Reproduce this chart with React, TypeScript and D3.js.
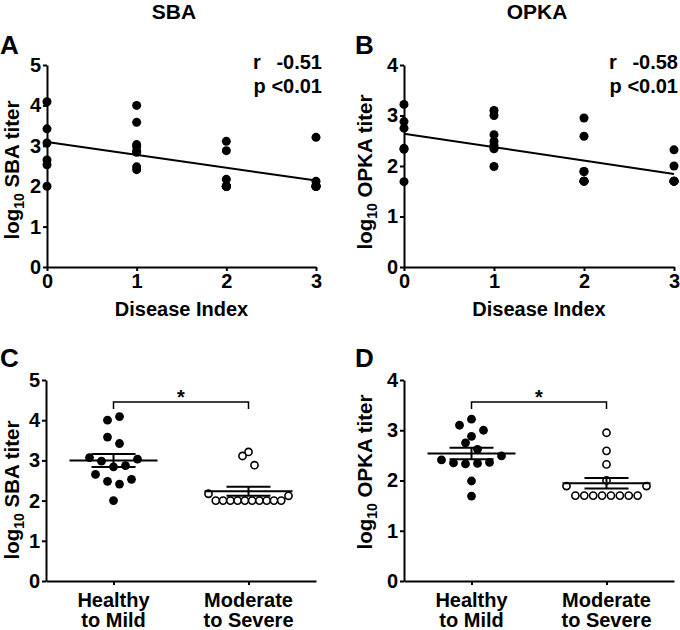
import React, { useRef, useEffect } from 'react';
import * as d3 from 'd3';

// Disease index on the x axis of panels A and B
const diseaseIndex = [0, 1, 2, 3];

// log10 titers per disease index (A, B)
const sbaByIndex = [
    [4.09, 3.42, 3.07, 2.65, 2.53, 2.0],
    [4.0, 3.58, 3.03, 2.98, 2.87, 2.84, 2.48, 2.41],
    [3.11, 2.88, 2.17, 2.0, 2.0, 2.0, 2.0, 2.0],
    [3.21, 2.12, 2.0, 2.0, 2.0, 2.0, 2.0],
];
const opkaByIndex = [
    [3.22, 2.88, 2.75, 2.35, 2.33, 1.69],
    [3.1, 3.0, 2.62, 2.49, 2.41, 2.36, 2.34, 1.99],
    [2.95, 2.59, 1.89, 1.89, 1.7, 1.7, 1.7, 1.7],
    [2.32, 2.0, 1.7, 1.7, 1.7, 1.7],
];

// Same titers grouped by severity (C, D), rows as laid out in the column scatter
const groupLabels = ['Healthy to Mild', 'Moderate to Severe'];
const sbaHealthyRows = [[4.0, 4.09], [3.58, 3.42], [3.07, 2.98, 2.84, 2.87, 3.03], [2.65, 2.48, 2.41, 2.53], [2.0]];
const sbaSevereRows = [[3.21], [3.11, 2.88], [2.17, 2.0, 2.0, 2.0, 2.0, 2.0, 2.0, 2.0, 2.0, 2.0, 2.0, 2.12]];
const opkaHealthyRows = [[3.1, 3.22, 3.0], [2.88], [2.75, 2.62], [2.41, 2.35, 2.33, 2.34, 2.36, 2.49], [1.99], [1.69]];
const opkaSevereRows = [[2.95], [2.59], [2.32], [2.0], [1.89, 1.7, 1.7, 1.7, 1.7, 1.7, 1.7, 1.7, 1.7, 1.89]];

// correlation stats printed on A and B
const rValues = ['-0.51', '-0.58'];
const pValues = ['<0.01', '<0.01'];

const FONT = '"Liberation Sans", Arial, Helvetica, sans-serif';

const App = () => {
    const svgRef = useRef<SVGSVGElement>(null);

    useEffect(() => {
        const width = 680;
        const height = 630;
        const svg = d3.select(svgRef.current)
            .attr('width', width)
            .attr('height', height)
            .attr('font-family', FONT)
            .attr('font-weight', 'bold');

        svg.selectAll('*').remove();

        const styleAxis = (g: any) => {
            g.attr('font-size', 20).attr('font-family', FONT);
            g.select('.domain').attr('stroke-width', 2);
            g.selectAll('.tick line').attr('stroke-width', 2);
            g.selectAll('.tick text').attr('fill', '#000');
        };

        const yTitle = (x: number, cy: number, name: string) => {
            const t = svg.append('text')
                .attr('transform', `translate(${x},${cy}) rotate(-90)`)
                .attr('text-anchor', 'middle')
                .attr('font-size', 20.5);
            t.append('tspan').text('log');
            t.append('tspan').attr('font-size', 14).attr('dy', 5).text('10');
            t.append('tspan').attr('dy', -5).text(` ${name} titer`);
        };

        const panelLetter = (x: number, y: number, letter: string) => {
            svg.append('text').attr('x', x).attr('y', y).attr('font-size', 26).text(letter);
        };

        // Regression panels
        const scatterPanel = (cfg: any) => {
            const { left, right, top, bottom, yMax, data, name, idx } = cfg;
            const x = d3.scaleLinear().domain([0, 3]).range([left, right]);
            const y = d3.scaleLinear().domain([0, yMax]).range([bottom, top]);

            svg.append('g')
                .attr('transform', `translate(${left},0)`)
                .call(d3.axisLeft(y).ticks(yMax).tickSize(4).tickPadding(2).tickSizeOuter(0))
                .call(styleAxis);
            svg.append('g')
                .attr('transform', `translate(0,${bottom})`)
                .call(d3.axisBottom(x).tickValues(diseaseIndex).tickFormat(d3.format('d')).tickSize(4).tickPadding(3).tickSizeOuter(0))
                .call(styleAxis);

            const pts = data.flatMap((vals: number[], i: number) => vals.map(v => ({ x: diseaseIndex[i], y: v })));

            svg.append('g')
                .selectAll('circle')
                .data(pts)
                .join('circle')
                .attr('cx', (d: any) => x(d.x))
                .attr('cy', (d: any) => y(d.y))
                .attr('r', 4.5)
                .attr('fill', '#000');

            // least squares fit
            const mx = d3.mean(pts, (d: any) => d.x) as number;
            const my = d3.mean(pts, (d: any) => d.y) as number;
            const sxy = d3.sum(pts, (d: any) => (d.x - mx) * (d.y - my));
            const sxx = d3.sum(pts, (d: any) => (d.x - mx) ** 2);
            const slope = sxy / sxx;
            const intercept = my - slope * mx;
            const line = d3.line<number>().x(d => x(d)).y(d => y(intercept + slope * d));
            svg.append('path')
                .datum([0, 3])
                .attr('fill', 'none')
                .attr('stroke', '#000')
                .attr('stroke-width', 2)
                .attr('d', line);

            const statEnd = right + cfg.statDx;
            const statStart = statEnd - 69;
            svg.append('text').attr('x', statStart).attr('y', top + 4).attr('font-size', 20).text('r');
            svg.append('text').attr('x', statEnd).attr('y', top + 4).attr('font-size', 20)
                .attr('text-anchor', 'end').text(rValues[idx]);
            svg.append('text').attr('x', statEnd).attr('y', top + 28).attr('font-size', 20)
                .attr('text-anchor', 'end').text(`p ${pValues[idx]}`);

            svg.append('text')
                .attr('x', (left + right) / 2)
                .attr('y', bottom + 49)
                .attr('text-anchor', 'middle')
                .attr('font-size', 20)
                .text('Disease Index');

            yTitle(cfg.yTitleX, cfg.yTitleY, name);
        };

        // Column scatter panels with mean +/- SEM
        const columnPanel = (cfg: any) => {
            const { left, right, top, bottom, yMax, groups, name } = cfg;
            const x = d3.scalePoint<string>().domain(groupLabels).range([left, right]).padding(0.5);
            const y = d3.scaleLinear().domain([0, yMax]).range([bottom, top]);

            svg.append('g')
                .attr('transform', `translate(${left},0)`)
                .call(d3.axisLeft(y).ticks(yMax).tickSize(4).tickPadding(2).tickSizeOuter(0))
                .call(styleAxis);
            svg.append('g')
                .attr('transform', `translate(0,${bottom})`)
                .call(d3.axisBottom(x).tickFormat(() => '').tickSize(4).tickSizeOuter(0))
                .call(styleAxis);

            groupLabels.forEach(label => {
                const words = label.split(' ');
                const t = svg.append('text')
                    .attr('x', x(label) as number)
                    .attr('y', bottom + 26)
                    .attr('text-anchor', 'middle')
                    .attr('font-size', 20);
                t.append('tspan').attr('x', x(label) as number).text(words[0]);
                t.append('tspan').attr('x', x(label) as number).attr('dy', 20).text(words.slice(1).join(' '));
            });

            groups.forEach((rows: number[][], gi: number) => {
                const cx = x(groupLabels[gi]) as number;
                const pts = rows.flatMap(row => {
                    const n = row.length;
                    const step = n > 1 ? Math.min(12, 80 / (n - 1)) : 0;
                    return row.map((v, i) => ({ dx: (i - (n - 1) / 2) * step, v }));
                });
                const open = gi === 1;
                svg.append('g')
                    .selectAll('circle')
                    .data(pts)
                    .join('circle')
                    .attr('cx', d => cx + d.dx)
                    .attr('cy', d => y(d.v))
                    .attr('r', open ? 3.6 : 4.4)
                    .attr('fill', open ? '#fff' : '#000')
                    .attr('stroke', '#000')
                    .attr('stroke-width', open ? 1.6 : 0);

                const vals = pts.map(d => d.v);
                const mean = d3.mean(vals) as number;
                const sem = (d3.deviation(vals) as number) / Math.sqrt(vals.length);
                const g = svg.append('g').attr('stroke', '#000').attr('stroke-width', 2);
                g.append('line').attr('x1', cx - 44).attr('x2', cx + 44).attr('y1', y(mean)).attr('y2', y(mean));
                g.append('line').attr('x1', cx).attr('x2', cx).attr('y1', y(mean - sem)).attr('y2', y(mean + sem));
                [mean - sem, mean + sem].forEach(v => {
                    g.append('line').attr('x1', cx - 22).attr('x2', cx + 22).attr('y1', y(v)).attr('y2', y(v));
                });
            });

            // significance bracket
            const xa = x(groupLabels[0]) as number;
            const xb = x(groupLabels[1]) as number;
            svg.append('path')
                .attr('fill', 'none')
                .attr('stroke', '#000')
                .attr('stroke-width', 1.5)
                .attr('d', `M${xa},${top + 29}V${top + 22}H${xb}V${top + 29}`);
            svg.append('text')
                .attr('x', (xa + xb) / 2)
                .attr('y', top + 24)
                .attr('text-anchor', 'middle')
                .attr('font-size', 20)
                .text('*');

            yTitle(cfg.yTitleX, cfg.yTitleY, name);
        };

        // column titles
        svg.append('text').attr('x', 174).attr('y', 19).attr('text-anchor', 'middle').attr('font-size', 21).text('SBA');
        svg.append('text').attr('x', 537).attr('y', 19).attr('text-anchor', 'middle').attr('font-size', 21).text('OPKA');

        panelLetter(0, 54, 'A');
        panelLetter(355, 54, 'B');
        panelLetter(0, 367, 'C');
        panelLetter(355, 367, 'D');

        scatterPanel({ left: 47, right: 316, top: 65, bottom: 267, yMax: 5, data: sbaByIndex, name: 'SBA', idx: 0, statDx: 6, yTitleX: 18.5, yTitleY: 170 });
        scatterPanel({ left: 404, right: 674, top: 65, bottom: 267, yMax: 4, data: opkaByIndex, name: 'OPKA', idx: 1, statDx: 4, yTitleX: 372, yTitleY: 172 });
        columnPanel({ left: 46, right: 316, top: 380, bottom: 581, yMax: 5, groups: [sbaHealthyRows, sbaSevereRows], name: 'SBA', yTitleX: 18.5, yTitleY: 490 });
        columnPanel({ left: 404, right: 674, top: 380, bottom: 581, yMax: 4, groups: [opkaHealthyRows, opkaSevereRows], name: 'OPKA', yTitleX: 372, yTitleY: 472 });
    }, []);

    return (
        <svg ref={svgRef} style={{ position: 'absolute', left: 0, top: 0, background: '#fff' }}></svg>
    );
};

export default App;
